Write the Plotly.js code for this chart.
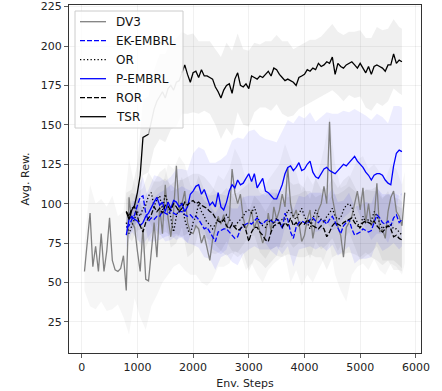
<!DOCTYPE html>
<html><head><meta charset="utf-8">
<script src="https://cdn.plot.ly/plotly-3.0.1.min.js"></script>
<style>html,body{margin:0;padding:0;background:#fff}#chart{width:442px;height:391px}</style>
</head><body><div id="chart"></div>
<script>
// ---- data (Env. Steps grid: every 50 steps) ----
const stepSize = 50;
const dv3Start = 50;
const mainStart = 800;
const tsrWarmupRange = [1200, 1800];

const seriesNames = ["DV3", "EK-EMBRL", "OR", "P-EMBRL", "ROR", "TSR"];
const xTickVals = [0, 1000, 2000, 3000, 4000, 5000, 6000];
const yTickVals = [25, 50, 75, 100, 125, 150, 175, 200, 225];

const dv3Mean = [
57,75,94,60,73,57,81,57,70,91,
64,58,57,59,67,45,104,88,85,70,
57,85,52,51,70,88,66,98,81,112,
91,79,95,124,95,100,108,88,82,81,
86,84,75,80,72,64,77,84,92,87,
93,85,90,122,107,100,106,91,84,88,
96,84,90,82,75,80,94,82,98,90,
96,106,98,123,100,91,96,88,76,80,
90,96,78,88,96,100,111,100,152,104,
95,85,80,66,85,88,92,100,108,96,
110,88,100,86,90,113,82,84,78,95,
104,108,95,92,86,107];
const dv3Upper = [
75,112,100,103,98,105,92,95,128,112,
100,95,105,110,112,125,122,130,125,112,
108,105,104,108,118,115,122,135,128,115,
118,112,108,115,120,125,138,128,120,108,
118,112,120,135,155,125,110,112,120,128,
130,122,125,120,115,125,122,112,120];
const dv3Lower = [
45,35,33,38,32,33,36,28,17,40,
28,20,35,42,50,55,60,62,58,55,
55,50,48,52,60,60,62,70,68,58,
62,55,50,58,62,65,68,50,58,48,
55,50,58,65,75,55,45,38,55,60,
62,58,65,58,55,62,60,55,62];

const tsrMean = [
95,90,96,99,107,118,142,143,144,152,
160,165,168,171,167,173,175,172,177,178,
183,188,182,177,183,184,180,185,181,181,
180,179,174,171,167,172,175,176,170,179,
183,175,174,176,173,181,180,179,181,180,
182,184,181,186,185,182,180,178,179,178,
177,175,180,181,182,185,184,186,185,189,
187,188,190,189,193,182,189,187,186,188,
189,190,188,186,189,186,183,187,182,187,
188,187,186,184,188,188,195,189,191,190];
const tsrStd = [
12,13,18,24,24,25,27,28,28,28,
26,25,25,23,22,23,24,26,27,27,
25,24,24,22,20,21,22,22,23,24,
21,20,20,20,19,19,20,21,20,21,
20,21,21,22,23,24,24,23,22,21,
21];

const pMean = [
80,90,92,90,89,86,88,92,94,98,
101,104,99,101,95,101,97,102,101,98,
100,95,98,106,108,111,112,106,109,104,
99,101,98,107,98,96,101,108,112,110,
115,112,113,116,119,114,119,110,113,116,
108,107,105,103,103,107,112,119,123,124,
121,123,126,121,122,125,127,120,117,116,
119,122,123,121,120,119,121,123,125,124,
126,128,130,127,125,123,120,118,115,118,
119,119,118,115,113,112,124,132,134,133];
const pStd = [
8,10,12,14,15,17,18,19,20,21,
22,23,24,24,25,27,28,30,30,28,
27,28,27,28,30,33,35,36,34,30,
30,30,32,31,35,36,35,37,36,34,
32,30,33,36,38,38,37,38,38,28,
28];

const ekMean = [
85,86,90,93,99,104,105,94,89,91,
90,92,92,95,94,93,96,94,93,95,
95,93,92,93,91,92,90,87,84,85,
82,79,76,82,83,84,84,82,80,78,
79,84,86,87,88,87,89,91,88,87,
89,90,89,88,90,89,84,94,90,82,
78,85,88,89,88,87,90,91,89,88,
90,89,87,90,92,88,84,81,86,88,
90,84,80,81,82,84,83,82,83,88,
93,91,88,87,89,86,91,93,88,90];
const ekStd = [
6,8,10,12,13,14,15,15,16,16,
16,17,17,18,18,17,18,17,16,17,
18,18,17,16,17,18,18,17,16,17,
18,17,16,17,18,17,17,18,17,16,
17,18,17,18,17,17,18,17,16,17,
17];

const orMean = [
88,81,86,90,95,92,97,99,105,107,
98,103,105,96,106,100,90,82,92,98,
101,90,84,80,88,92,100,95,92,88,
87,84,87,90,88,90,93,90,88,85,
88,90,92,95,96,94,98,92,88,86,
85,88,90,87,91,88,90,90,96,95,
92,90,94,97,92,88,84,90,96,92,
90,88,92,94,97,92,90,91,96,99,
100,98,92,88,84,92,88,90,89,95,
92,88,84,86,85,87,84,84,82,80];
const orStd = [
7,10,12,13,15,16,15,17,18,17,
16,18,19,18,17,18,19,18,17,18,
19,18,17,18,19,20,19,18,18,19,
20,19,18,19,20,19,18,19,20,19,
18,19,20,21,20,19,20,21,20,21,
21];

const rorMean = [
95,92,97,98,92,86,82,88,91,93,
98,95,97,94,99,98,96,100,98,95,
97,101,99,101,102,100,101,99,98,97,
95,94,91,89,88,90,86,84,87,85,
83,84,87,83,76,82,85,85,82,80,
77,76,82,86,87,88,85,88,86,91,
86,88,86,88,87,90,88,86,85,84,
86,84,79,82,86,88,87,86,88,89,
90,91,88,86,85,88,89,88,87,89,
86,84,82,84,86,84,79,80,78,77];
const rorStd = [
8,10,13,14,15,16,17,17,16,17,
18,18,17,18,19,18,17,18,19,18,
17,18,19,20,19,18,19,20,19,18,
19,20,21,20,19,20,21,20,19,20,
21,20,19,20,21,22,21,22,21,20,
20];

// ---- helpers ----
function stepsFrom(start, n){ const a=[]; for(let i=0;i<n;i++) a.push(start+i*stepSize); return a; }
function bandIdx(n){ const idx=[]; for(let i=0;i<n;i+=2) idx.push(i); if(idx[idx.length-1]!==n-1) idx.push(n-1); return idx; }
function bandTrace(xs, up, lo, color){
  return {x: xs.concat(xs.slice().reverse()), y: up.concat(lo.slice().reverse()),
    type:'scatter', mode:'lines', fill:'toself', fillcolor:color, line:{width:0},
    hoverinfo:'skip', showlegend:false};
}
function stdBand(steps, mean, std, color){
  const idx = bandIdx(mean.length);
  const xs = idx.map(i=>steps[i]);
  const up = idx.map((i,k)=>mean[i]+std[k]);
  const lo = idx.map((i,k)=>mean[i]-std[k]);
  return bandTrace(xs, up, lo, color);
}

const dv3Steps = stepsFrom(dv3Start, dv3Mean.length);
const mainSteps = stepsFrom(mainStart, tsrMean.length);
const dv3BandX = bandIdx(dv3Mean.length).map(i=>dv3Steps[i]);

const tsrLineY = mainSteps.map((s,i)=> (s>tsrWarmupRange[0] && s<tsrWarmupRange[1]) ? null : tsrMean[i]);
const warmX = [], warmY = [];
mainSteps.forEach((s,i)=>{ if(s>=tsrWarmupRange[0] && s<=tsrWarmupRange[1]){ warmX.push(s); warmY.push(tsrMean[i]); }});

const lw = 1.3;
const lineStyles = [
  {color:'#808080', width:lw},
  {color:'#0000ff', width:lw, dash:'5px,2px'},
  {color:'#000000', width:lw, dash:'1.3px,2.2px'},
  {color:'#0000ff', width:lw},
  {color:'#000000', width:lw, dash:'5px,2px'},
  {color:'#000000', width:lw}
];
const data = [
  bandTrace(dv3BandX, dv3Upper, dv3Lower, 'rgba(128,128,128,0.07)'),
  stdBand(mainSteps, tsrMean, tsrStd, 'rgba(128,128,128,0.12)'),
  stdBand(mainSteps, pMean, pStd, 'rgba(0,0,255,0.07)'),
  stdBand(mainSteps, ekMean, ekStd, 'rgba(0,0,255,0.08)'),
  stdBand(mainSteps, orMean, orStd, 'rgba(0,0,0,0.05)'),
  stdBand(mainSteps, rorMean, rorStd, 'rgba(0,0,0,0.05)'),
  {x:dv3Steps, y:dv3Mean, name:seriesNames[0], type:'scatter', mode:'lines', line:lineStyles[0]},
  {x:mainSteps, y:ekMean, name:seriesNames[1], type:'scatter', mode:'lines', line:lineStyles[1]},
  {x:mainSteps, y:orMean, name:seriesNames[2], type:'scatter', mode:'lines', line:lineStyles[2]},
  {x:mainSteps, y:pMean, name:seriesNames[3], type:'scatter', mode:'lines', line:lineStyles[3]},
  {x:mainSteps, y:rorMean, name:seriesNames[4], type:'scatter', mode:'lines', line:lineStyles[4]},
  {x:warmX, y:warmY, type:'scatter', mode:'lines', line:{color:'#a0a0a0', width:lw}, showlegend:false, hoverinfo:'skip'},
  {x:mainSteps, y:tsrLineY, name:seriesNames[5], type:'scatter', mode:'lines', connectgaps:false, line:lineStyles[5]}
];

// ---- legend box (matplotlib-like, drawn in plot-area fractions) ----
const W = 352, H = 348; // plot area size in px
const px = v => v / W, py = v => 1 - v / H;
const shapes = [{type:'rect', xref:'paper', yref:'paper', x0:px(6), x1:px(114), y0:py(6), y1:py(123),
  fillcolor:'rgba(255,255,255,0.8)', line:{color:'#cccccc', width:1}, layer:'above'}];
const annotations = [];
seriesNames.forEach((name, i) => {
  const yy = py(16.7 + 19 * i);
  shapes.push({type:'line', xref:'paper', yref:'paper', x0:px(11), x1:px(37), y0:yy, y1:yy, line:lineStyles[i], layer:'above'});
  annotations.push({xref:'paper', yref:'paper', x:px(45), y:yy, xanchor:'left', yanchor:'middle', showarrow:false,
    text:name, font:{family:'DejaVu Sans, sans-serif', size:12, color:'#111'}});
});

const font = {family:'DejaVu Sans, sans-serif', size:11, color:'#222'};
const layout = {
  width:442, height:391,
  margin:{l:69, r:21, t:5, b:38},
  paper_bgcolor:'#fff', plot_bgcolor:'#fff',
  font: font,
  showlegend:false,
  shapes: shapes,
  annotations: annotations,
  xaxis:{range:[-228, 6092], tickvals:xTickVals, ticktext:xTickVals.map(String), ticks:'outside', ticklen:4, tickwidth:0.8,
    tickcolor:'#333', showline:true, linecolor:'#333', linewidth:1, mirror:true, showgrid:true,
    gridcolor:'rgba(0,0,0,0.07)', gridwidth:0.8, zeroline:false, tickfont:font,
    title:{text:'Env. Steps', font:font, standoff:6}},
  yaxis:{range:[5.3, 226], tickvals:yTickVals, ticktext:yTickVals.map(String), ticks:'outside', ticklen:4, tickwidth:0.8,
    tickcolor:'#333', showline:true, linecolor:'#333', linewidth:1, mirror:true, showgrid:true,
    gridcolor:'rgba(0,0,0,0.07)', gridwidth:0.8, zeroline:false, tickfont:font,
    title:{text:'Avg. Rew.', font:font, standoff:8}}
};
Plotly.newPlot('chart', data, layout, {displayModeBar:false, staticPlot:true});
</script></body></html>
